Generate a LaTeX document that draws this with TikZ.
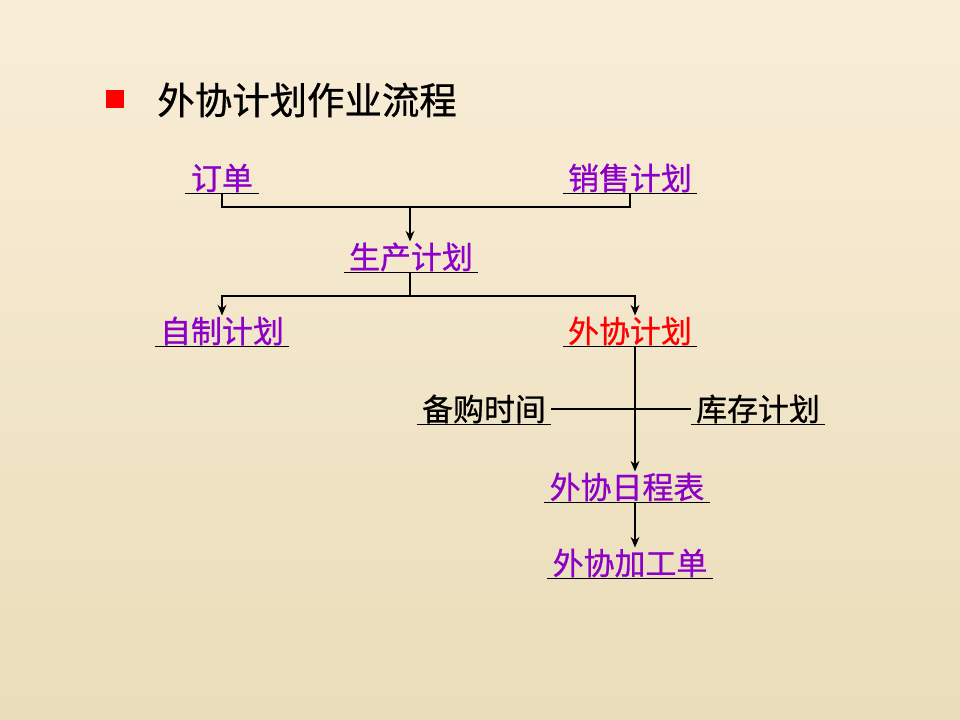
\documentclass[tikz,border=0pt]{standalone}
\usepackage{fontspec}
\newfontfamily\cjk[FakeBold=0.8]{Noto Sans CJK SC}
\usetikzlibrary{arrows.meta, positioning, calc}
\definecolor{linkpurple}{RGB}{140,0,200}
\definecolor{bgtop}{RGB}{250,237,215}
\definecolor{bgbottom}{RGB}{233,221,186}

\begin{document}
\begin{tikzpicture}[x=0.2mm, y=-0.2mm,
    item/.style={font=\cjk\fontsize{17.6pt}{20pt}\selectfont, text=linkpurple,
                 inner xsep=3pt, inner ysep=0.5pt},
    arr/.style={-{Stealth[length=6pt, width=5pt]}, line width=1pt},
    bar/.style={line width=1pt},
]
  % ---- Background ----
  \shade[top color=bgtop, bottom color=bgbottom] (0,0) rectangle (960,720);
  \useasboundingbox (0,0) rectangle (960,720);

  % ---- Title ----
  \fill[red] (106,90) rectangle (124,108);
  \node[font=\cjk\fontsize{21.3pt}{24pt}\selectfont, anchor=west, inner sep=0pt]
    (title) at (157,100) {外协计划作业流程};

  % ---- Items ----
  \node[item] (dd) at (222,178) {订单};
  \node[item] (xs) at (630,178) {销售计划};
  \node[item] (sc) at (411,257) {生产计划};
  \node[item] (zz) at (222,331) {自制计划};
  \node[item, text=red] (wx) at (630,331) {外协计划};
  \node[item, text=black] (bg) at (484,409) {备购时间};
  \node[item, text=black] (kc) at (758,409) {库存计划};
  \node[item] (rc) at (627,487) {外协日程表};
  \node[item] (jg) at (630,563) {外协加工单};

  % underlines
  \foreach \n in {dd, xs, sc, zz, wx, bg, kc, rc, jg}
    \draw[bar] (\n.south west) -- (\n.south east);

  % ---- Connectors ----
  \coordinate (j1) at (410,207);
  \coordinate (j2) at (410,296);
  \coordinate (sp) at (635,0);

  \draw[bar] (dd.south) |- (j1) -| (xs.south);
  \draw[arr] (j1) -- (j1 |- sc.north);
  \draw[bar] (j2 |- sc.south) -- (j2);
  \draw[arr] (j2) -| (zz.north);
  \draw[arr] (j2) -| (sp |- wx.north);
  \draw[arr] (sp |- wx.south) -- (sp |- rc.north);
  \draw[arr] (sp |- rc.south) -- (sp |- jg.north);
  \draw[bar] (bg.east) -- (kc.west);

\end{tikzpicture}
\end{document}
